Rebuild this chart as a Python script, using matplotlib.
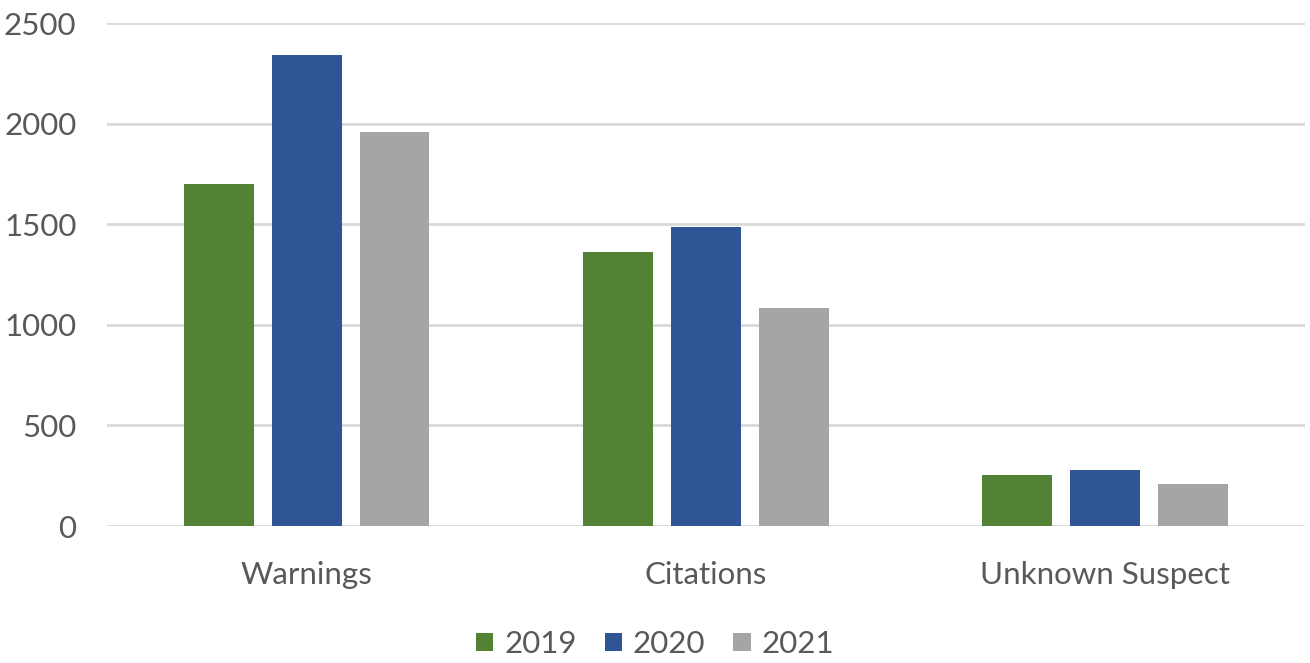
import matplotlib.pyplot as plt
import numpy as np

categories = ['Warnings', 'Citations', 'Unknown Suspect']
years = ['2019', '2020', '2021']
values_2019 = [1700, 1364, 256]
values_2020 = [2342, 1484, 279]
values_2021 = [1956, 1086, 211]
colors = ['#548235', '#2f5597', '#a5a5a5']

plt.rcParams['font.family'] = ['Lato', 'DejaVu Sans']

fig = plt.figure(figsize=(13.1, 6.63), dpi=100)
ax = fig.add_axes([0.0817, 0.2066, 0.9143, 0.7587])

x = np.arange(len(categories))
width = 0.175
offset = 0.22
for i, (vals, yr) in enumerate(zip([values_2019, values_2020, values_2021], years)):
    ax.bar(x + (i - 1) * offset, vals, width, color=colors[i], label=yr, zorder=3)

ax.set_xlim(-0.5, 2.5)
ax.set_ylim(0, 2500)
ax.set_yticks(range(0, 2501, 500))
ax.set_xticks(x)
ax.set_xticklabels(categories)
ax.yaxis.grid(True, color='#d9d9d9', linewidth=2, zorder=0)
for s in ax.spines.values():
    s.set_visible(False)
ax.tick_params(axis='both', length=0, labelsize=22.5, colors='#595959')
ax.tick_params(axis='y', pad=22)
ax.tick_params(axis='x', pad=25)

fig.legend(loc='lower center', ncol=3, bbox_to_anchor=(0.5, -0.035), frameon=False,
           fontsize=22.5, labelcolor='#595959', handlelength=0.55, handleheight=0.55,
           handletextpad=0.35, columnspacing=0.9)

fig.savefig('out.png')
